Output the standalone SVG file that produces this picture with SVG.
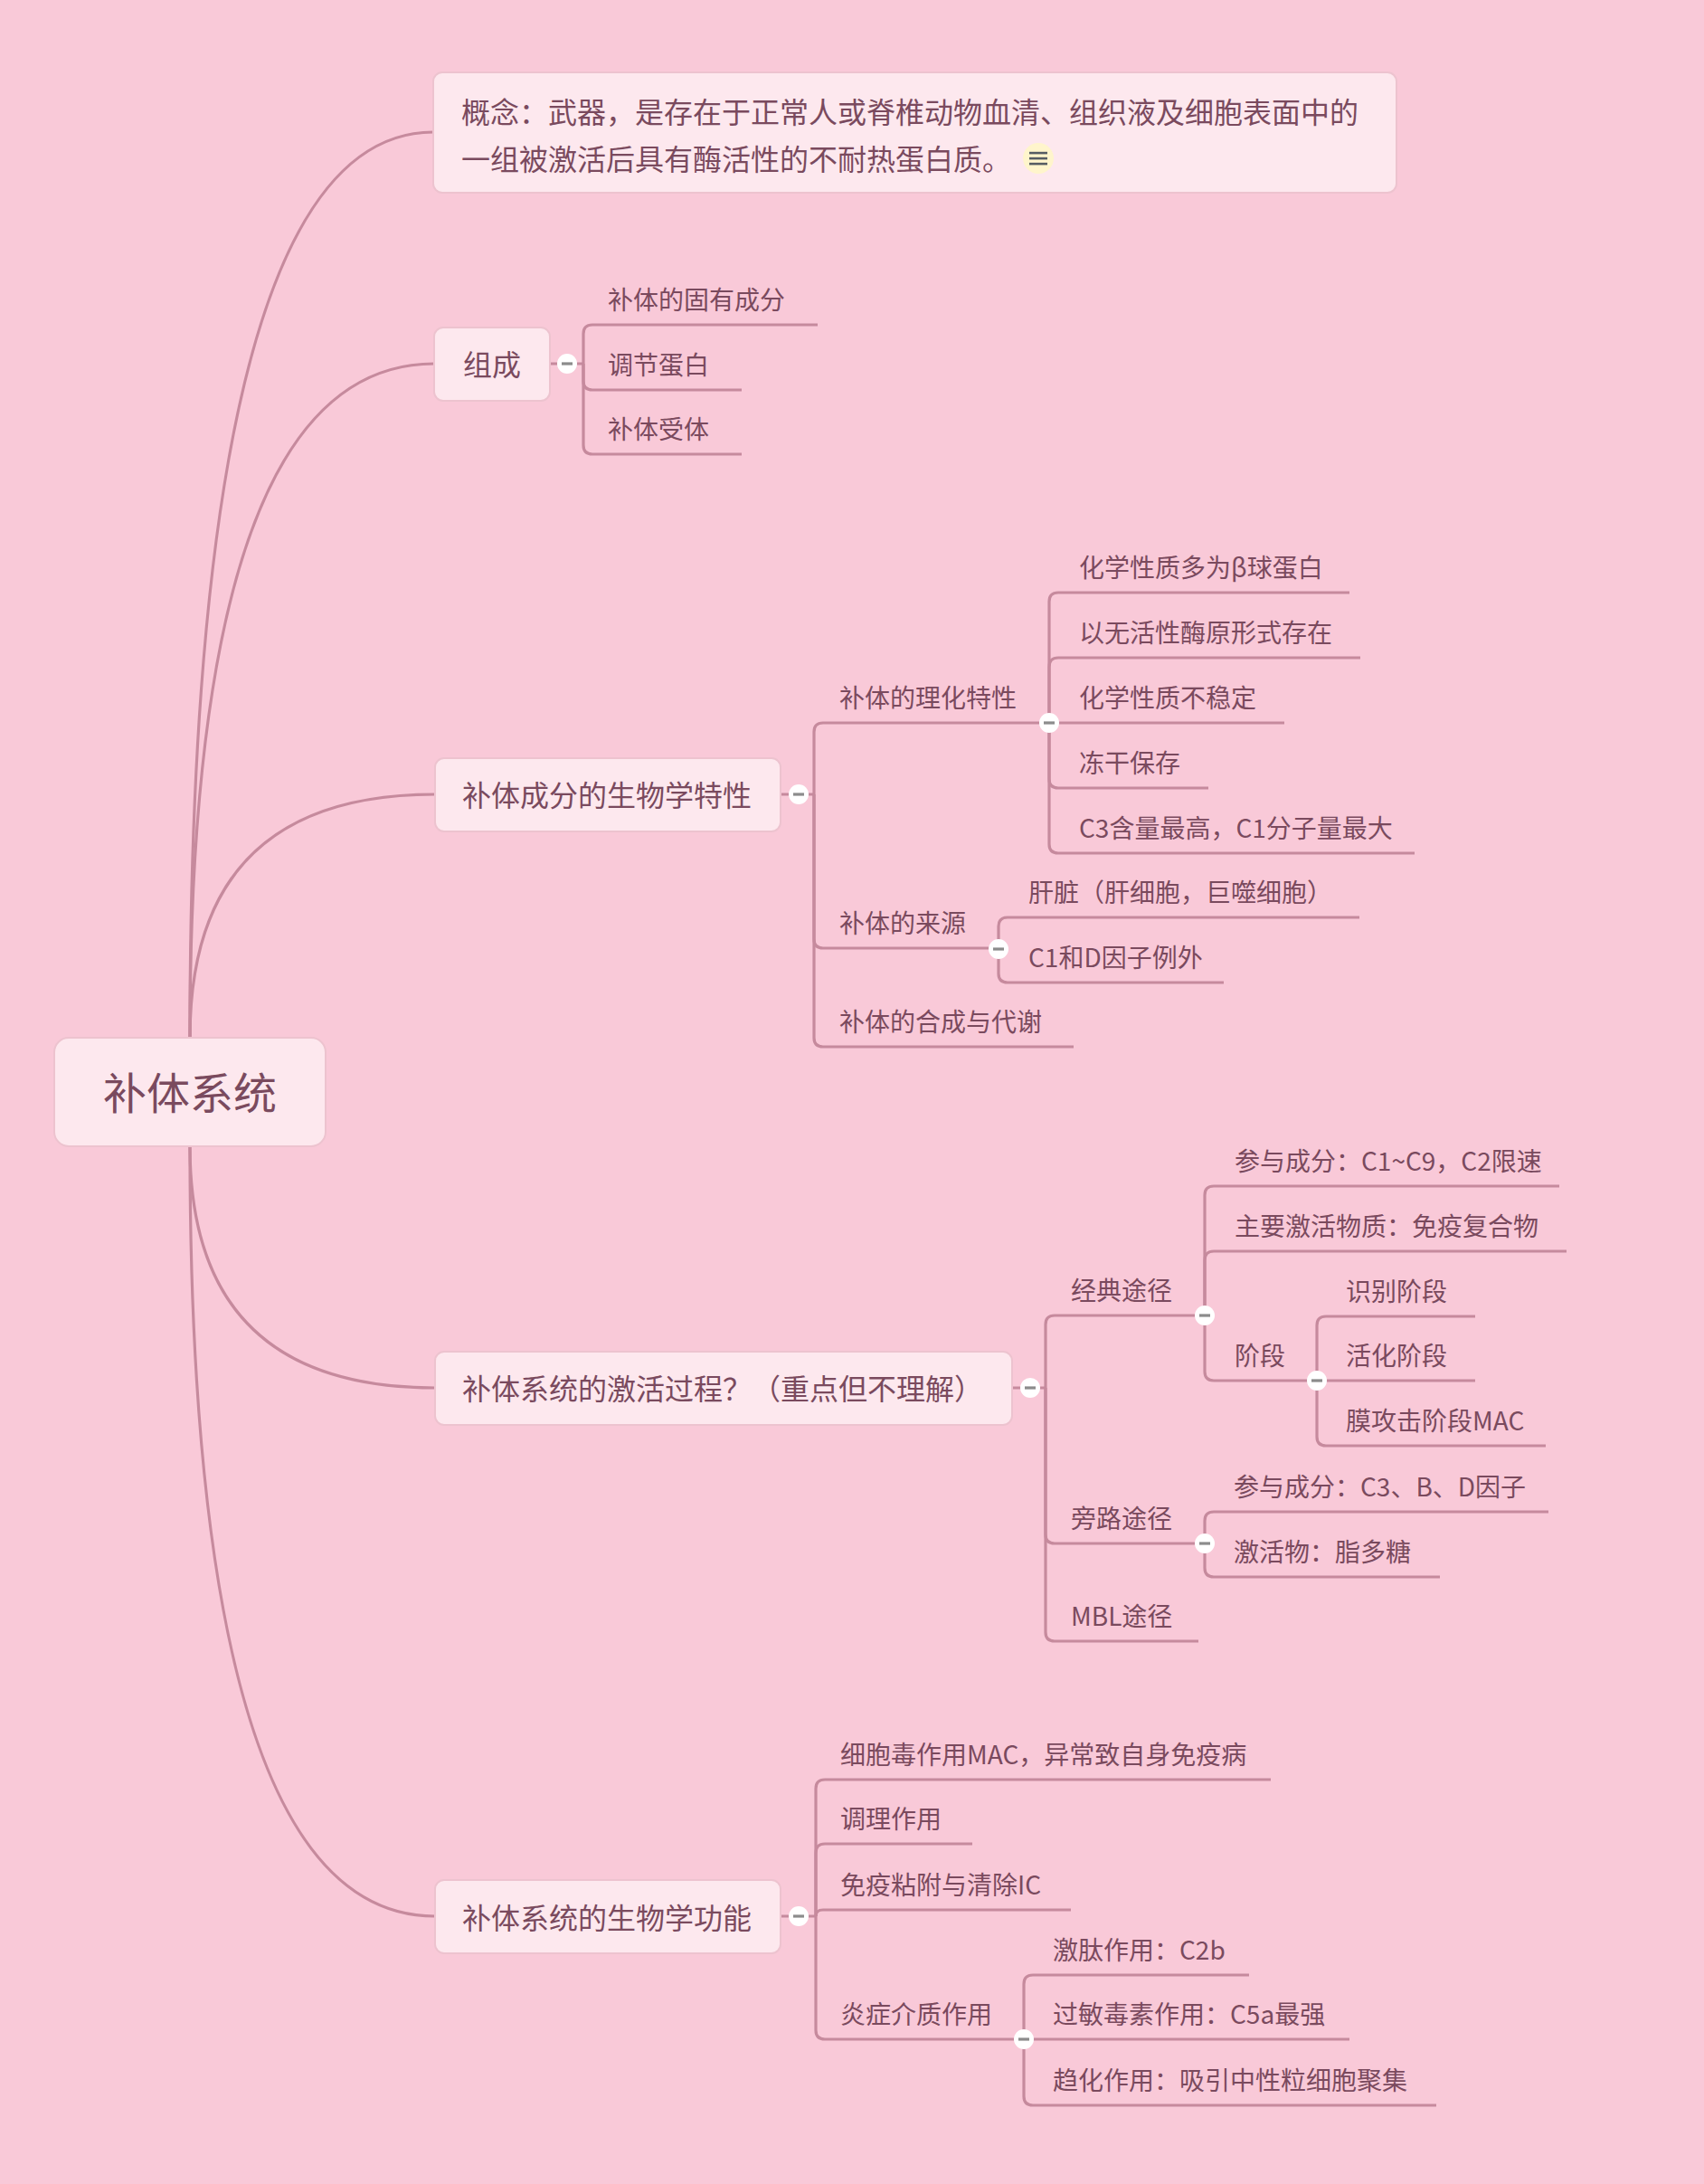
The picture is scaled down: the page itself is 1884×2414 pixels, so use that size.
<svg xmlns="http://www.w3.org/2000/svg" width="1884" height="2414" viewBox="0 0 1884 2414">
<defs>
<style>
.bg{fill:#F9C9D8}
.ln{fill:none;stroke:#C68A9D;stroke-width:3.2;stroke-linecap:butt}
.mc{fill:none;stroke:#C68A9D;stroke-width:3.2}
.box{fill:#FDE8EE;stroke:#EDC3CF;stroke-width:2}
.t{font-family:"Noto Sans CJK SC","Noto Sans",sans-serif;fill:#7A4A5E}
.t28{font-size:28px}
.t32{font-size:32px}
.t48{font-size:48px}
.cb{fill:#FFFFFF}
.cm{fill:#8C8C8C}
</style>
<g id="collapse">
<circle cx="0" cy="0" r="11" class="cb"/>
<rect x="-6" y="-1.6" width="12" height="3.2" class="cm"/>
</g>
</defs>
<rect class="bg" x="0" y="0" width="1884" height="2414"/>

<g id="connectors">
<path class="mc" d="M210,1147 Q210,146 479,146"/>
<path class="mc" d="M210,1147 Q210,402 480,402"/>
<path class="mc" d="M210,1147 Q210,878 481,878"/>
<path class="mc" d="M210,1267 Q210,1534 481,1534"/>
<path class="mc" d="M210,1267 Q210,2118 481,2118"/>

<path class="ln" d="M608,402 H645"/>
<path class="ln" d="M645,402 V369 Q645,359 655,359 H904"/>
<path class="ln" d="M645,402 V421 Q645,431 655,431 H820"/>
<path class="ln" d="M645,402 V492 Q645,502 655,502 H820"/>

<path class="ln" d="M863,878 H900"/>
<path class="ln" d="M900,878 V809 Q900,799 910,799 H1160"/>
<path class="ln" d="M900,878 V1038 Q900,1048 910,1048 H1104"/>
<path class="ln" d="M900,878 V1147 Q900,1157 910,1157 H1187"/>

<path class="ln" d="M1160,799 V665 Q1160,655 1170,655 H1492"/>
<path class="ln" d="M1160,799 V737 Q1160,727 1170,727 H1504"/>
<path class="ln" d="M1160,799 H1420"/>
<path class="ln" d="M1160,799 V861 Q1160,871 1170,871 H1336"/>
<path class="ln" d="M1160,799 V933 Q1160,943 1170,943 H1564"/>

<path class="ln" d="M1104,1049 V1024 Q1104,1014 1114,1014 H1503"/>
<path class="ln" d="M1104,1049 V1076 Q1104,1086 1114,1086 H1353"/>

<path class="ln" d="M1119,1534 H1156"/>
<path class="ln" d="M1156,1534 V1464 Q1156,1454 1166,1454 H1332"/>
<path class="ln" d="M1156,1534 V1696 Q1156,1706 1166,1706 H1332"/>
<path class="ln" d="M1156,1534 V1804 Q1156,1814 1166,1814 H1325"/>

<path class="ln" d="M1332,1454 V1321 Q1332,1311 1342,1311 H1724"/>
<path class="ln" d="M1332,1454 V1393 Q1332,1383 1342,1383 H1732"/>
<path class="ln" d="M1332,1454 V1516 Q1332,1526 1342,1526 H1456"/>

<path class="ln" d="M1456,1526 V1465 Q1456,1455 1466,1455 H1631"/>
<path class="ln" d="M1456,1526 H1631"/>
<path class="ln" d="M1456,1526 V1588 Q1456,1598 1466,1598 H1709"/>

<path class="ln" d="M1332,1706 V1681 Q1332,1671 1342,1671 H1712"/>
<path class="ln" d="M1332,1706 V1733 Q1332,1743 1342,1743 H1592"/>

<path class="ln" d="M863,2118 H902"/>
<path class="ln" d="M902,2118 V1977 Q902,1967 912,1967 H1405"/>
<path class="ln" d="M902,2118 V2048 Q902,2038 912,2038 H1075"/>
<path class="ln" d="M902,2118 Q902,2111 910,2111 H1184"/>
<path class="ln" d="M902,2118 V2244 Q902,2254 912,2254 H1132"/>

<path class="ln" d="M1132,2254 V2193 Q1132,2183 1142,2183 H1381"/>
<path class="ln" d="M1132,2254 H1492"/>
<path class="ln" d="M1132,2254 V2317 Q1132,2327 1142,2327 H1588"/>
</g>

<g id="root">
<rect class="box" x="60" y="1147" width="300" height="120" rx="16" stroke-width="3"/>
<text class="t t48" x="210" y="1226" text-anchor="middle">补体系统</text>
</g>

<g id="concept">
<rect class="box" x="479" y="80" width="1065" height="133" rx="10"/>
<text class="t t32" x="510" y="136">概念：武器，是存在于正常人或脊椎动物血清、组织液及细胞表面中的</text>
<text class="t t32" x="510" y="188">一组被激活后具有酶活性的不耐热蛋白质。</text>
<g id="note-icon">
<circle cx="1148" cy="175" r="17" fill="#FFF5CC"/>
<rect x="1138" y="167.8" width="20" height="2.6" fill="#555C63"/>
<rect x="1138" y="173.8" width="20" height="2.6" fill="#555C63"/>
<rect x="1138" y="179.8" width="20" height="2.6" fill="#555C63"/>
</g>
</g>

<g id="zucheng">
<rect class="box" x="480" y="362" width="128" height="81" rx="10"/>
<text class="t t32" x="544" y="415" text-anchor="middle">组成</text>
<use href="#collapse" x="627" y="402"/>
</g>
<g id="zc-1"><text class="t t28" x="672" y="342">补体的固有成分</text></g>
<g id="zc-2"><text class="t t28" x="672" y="414">调节蛋白</text></g>
<g id="zc-3"><text class="t t28" x="672" y="485">补体受体</text></g>

<g id="texing">
<rect class="box" x="481" y="838" width="382" height="81" rx="10"/>
<text class="t t32" x="511" y="891">补体成分的生物学特性</text>
<use href="#collapse" x="883" y="878"/>
</g>
<g id="lihua">
<text class="t t28" x="928" y="782">补体的理化特性</text>
<use href="#collapse" x="1160" y="799"/>
</g>
<g id="lh-1"><text class="t t28" x="1193" y="638">化学性质多为β球蛋白</text></g>
<g id="lh-2"><text class="t t28" x="1193" y="710">以无活性酶原形式存在</text></g>
<g id="lh-3"><text class="t t28" x="1193" y="782">化学性质不稳定</text></g>
<g id="lh-4"><text class="t t28" x="1193" y="854">冻干保存</text></g>
<g id="lh-5"><text class="t t28" x="1193" y="926">C3含量最高，C1分子量最大</text></g>
<g id="laiyuan">
<text class="t t28" x="928" y="1031">补体的来源</text>
<use href="#collapse" x="1104" y="1049"/>
</g>
<g id="ly-1"><text class="t t28" x="1137" y="997">肝脏（肝细胞，巨噬细胞）</text></g>
<g id="ly-2"><text class="t t28" x="1137" y="1069">C1和D因子例外</text></g>
<g id="hecheng"><text class="t t28" x="928" y="1140">补体的合成与代谢</text></g>

<g id="jihuo">
<rect class="box" x="481" y="1494" width="638" height="81" rx="10"/>
<text class="t t32" x="511" y="1547">补体系统的激活过程？（重点但不理解）</text>
<use href="#collapse" x="1139" y="1534"/>
</g>
<g id="jingdian">
<text class="t t28" x="1184" y="1437">经典途径</text>
<use href="#collapse" x="1332" y="1454"/>
</g>
<g id="jd-1"><text class="t t28" x="1365" y="1294">参与成分：C1~C9，C2限速</text></g>
<g id="jd-2"><text class="t t28" x="1365" y="1366">主要激活物质：免疫复合物</text></g>
<g id="jieduan">
<text class="t t28" x="1365" y="1509">阶段</text>
<use href="#collapse" x="1456" y="1526"/>
</g>
<g id="jdn-1"><text class="t t28" x="1488" y="1438">识别阶段</text></g>
<g id="jdn-2"><text class="t t28" x="1488" y="1509">活化阶段</text></g>
<g id="jdn-3"><text class="t t28" x="1488" y="1581">膜攻击阶段MAC</text></g>
<g id="panglu">
<text class="t t28" x="1184" y="1689">旁路途径</text>
<use href="#collapse" x="1332" y="1706"/>
</g>
<g id="pl-1"><text class="t t28" x="1364" y="1654">参与成分：C3、B、D因子</text></g>
<g id="pl-2"><text class="t t28" x="1364" y="1726">激活物：脂多糖</text></g>
<g id="mbl"><text class="t t28" x="1184" y="1797">MBL途径</text></g>

<g id="gongneng">
<rect class="box" x="481" y="2078" width="382" height="81" rx="10"/>
<text class="t t32" x="511" y="2132">补体系统的生物学功能</text>
<use href="#collapse" x="883" y="2118"/>
</g>
<g id="gn-1"><text class="t t28" x="929" y="1950">细胞毒作用MAC，异常致自身免疫病</text></g>
<g id="gn-2"><text class="t t28" x="929" y="2021">调理作用</text></g>
<g id="gn-3"><text class="t t28" x="929" y="2094">免疫粘附与清除IC</text></g>
<g id="yanzheng">
<text class="t t28" x="929" y="2237">炎症介质作用</text>
<use href="#collapse" x="1132" y="2254"/>
</g>
<g id="yz-1"><text class="t t28" x="1164" y="2166">激肽作用：C2b</text></g>
<g id="yz-2"><text class="t t28" x="1164" y="2237">过敏毒素作用：C5a最强</text></g>
<g id="yz-3"><text class="t t28" x="1164" y="2310">趋化作用：吸引中性粒细胞聚集</text></g>
</svg>
